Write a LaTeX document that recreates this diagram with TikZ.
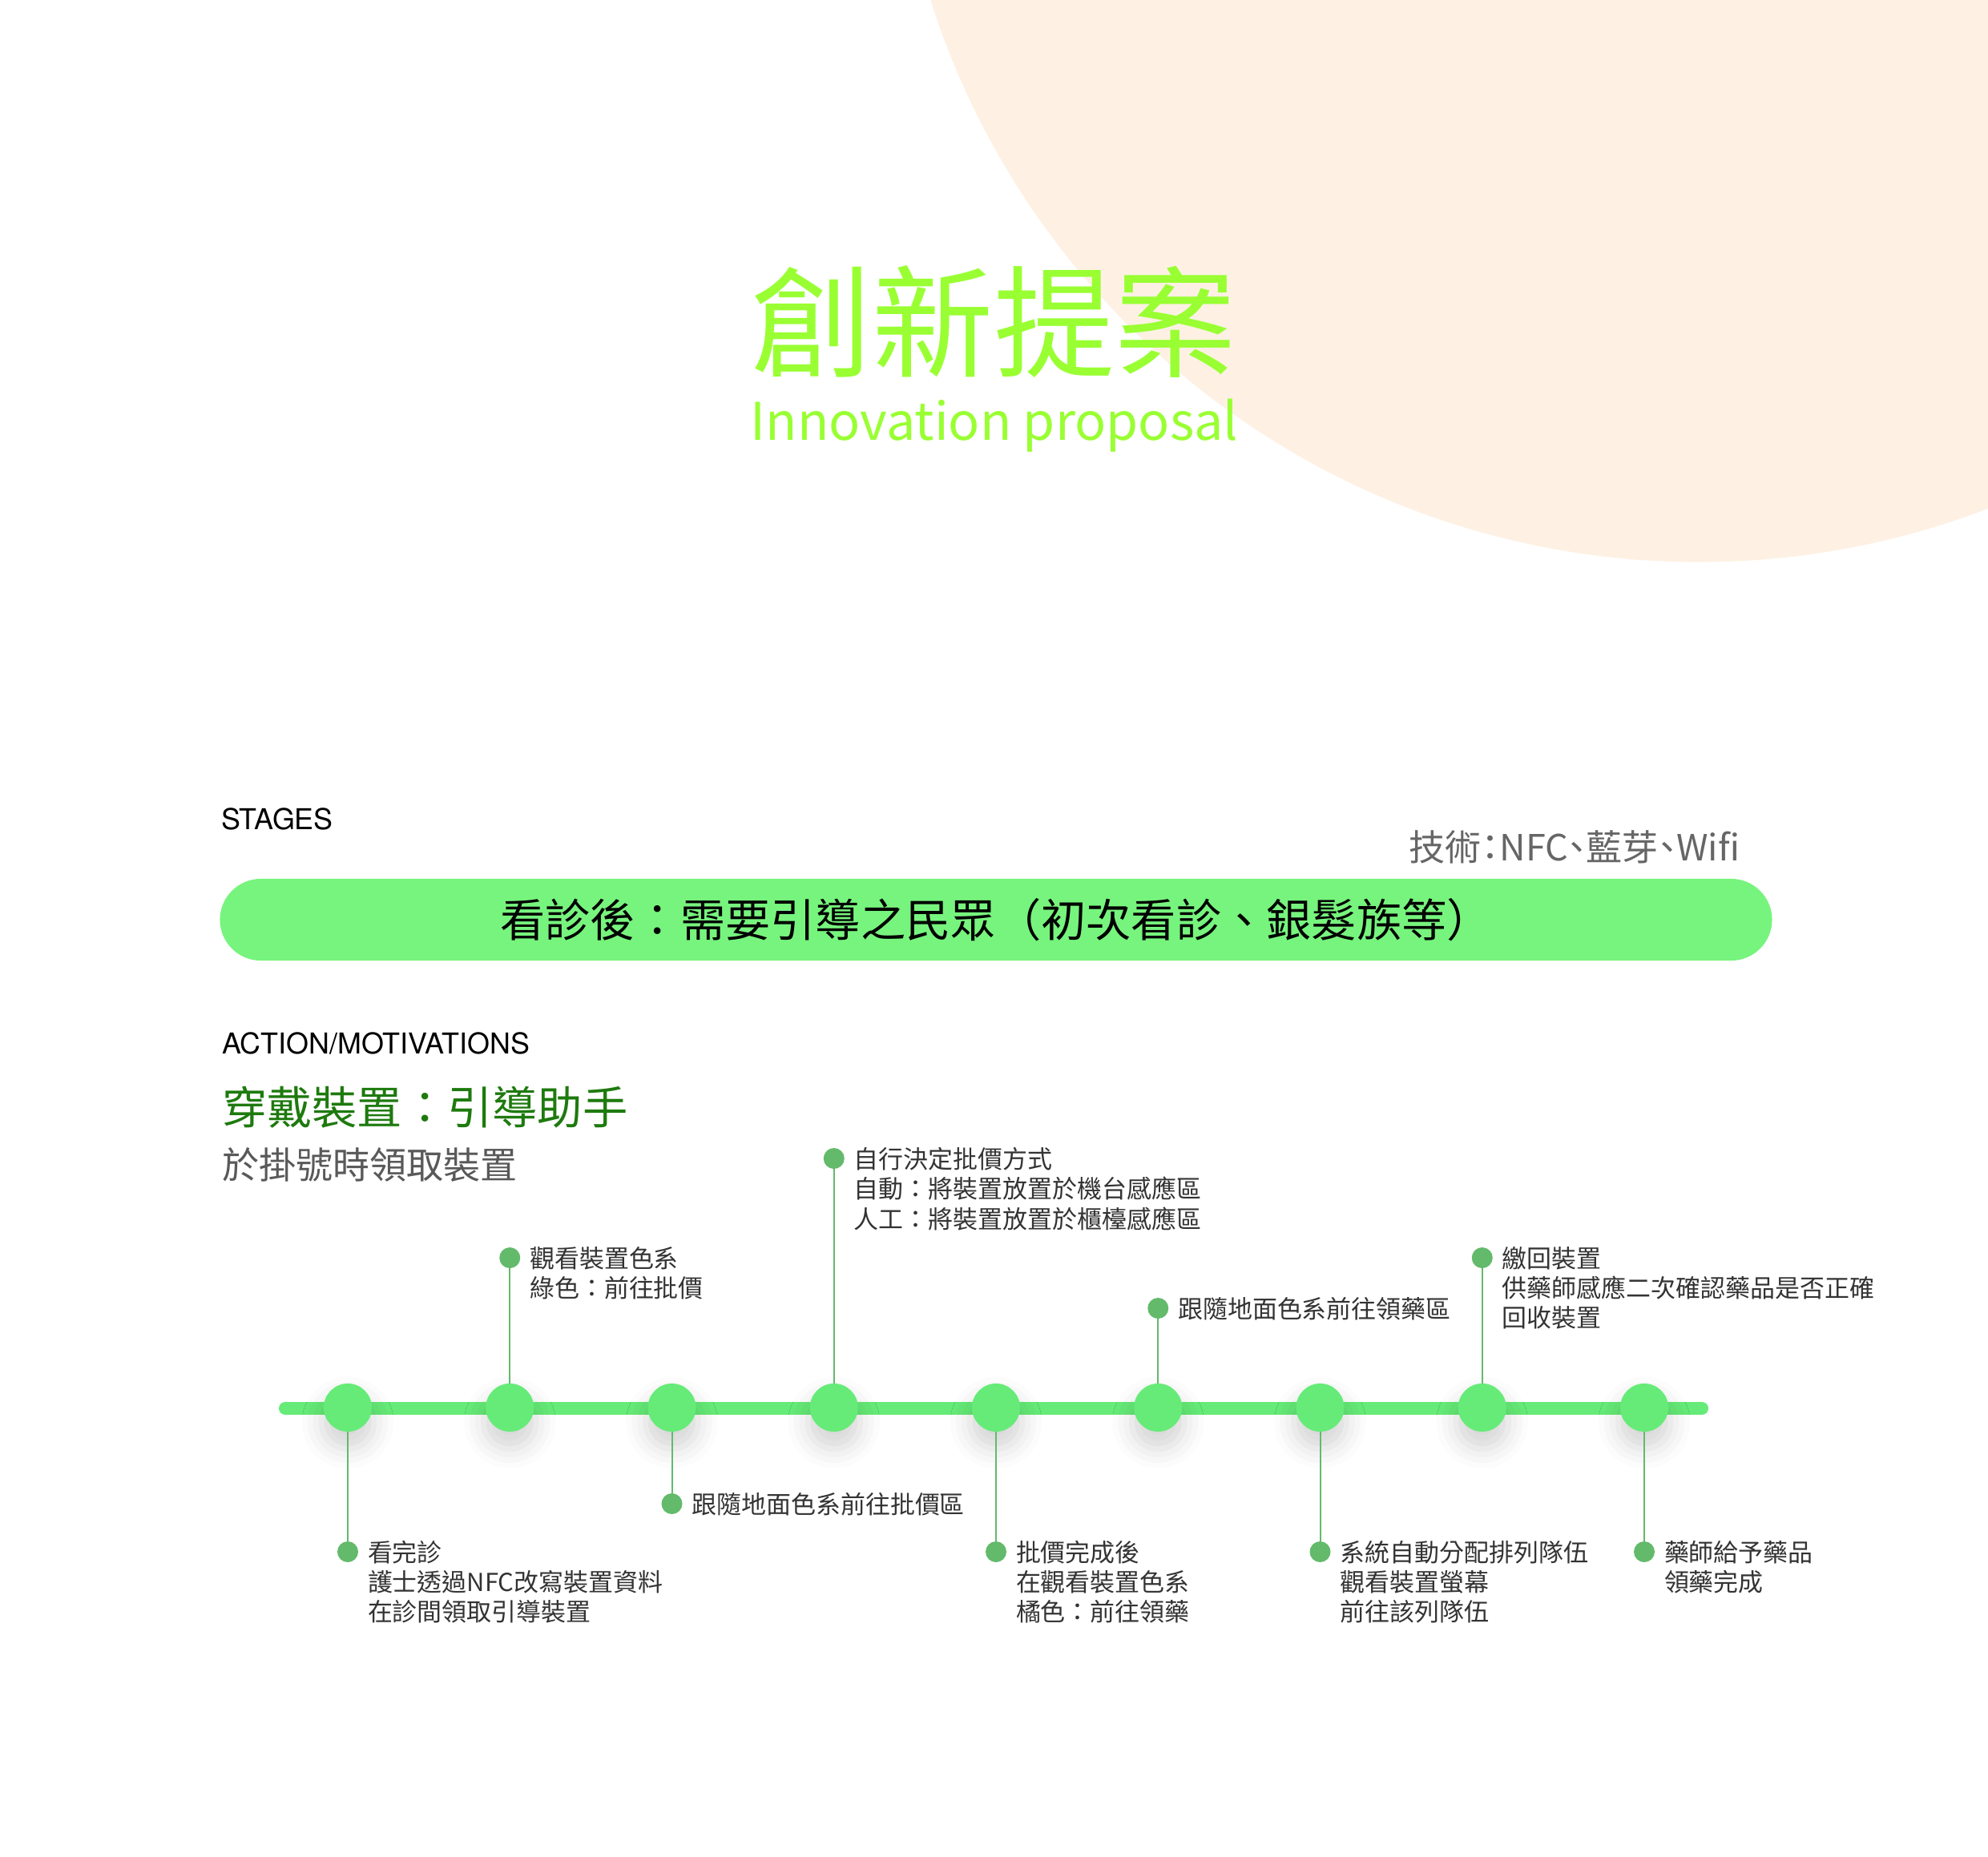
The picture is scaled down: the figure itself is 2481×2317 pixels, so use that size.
\documentclass[tikz,border=0pt]{standalone}
\usepackage{fontspec}
\setmainfont{Noto Sans CJK TC}
\newfontfamily\heros{TeX Gyre Heros}
\newfontfamily\cjkprop[RawFeature=+palt]{Noto Sans CJK TC}
\usetikzlibrary{calc,positioning,shadows.blur}
\definecolor{lime}{HTML}{99FF33}
\definecolor{peach}{HTML}{FEF1E4}
\definecolor{bandgreen}{HTML}{77F47D}
\definecolor{stationgreen}{HTML}{66EB78}
\definecolor{dotgreen}{HTML}{63BA6B}
\definecolor{darkgreen}{HTML}{1E7A0E}
\newcommand{\steplines}[1]{\begin{tabular}[t]{@{}l@{}}#1\end{tabular}}

\begin{document}
\begin{tikzpicture}[
    x=0.01cm, y=-0.01cm,
    every node/.style={inner sep=0pt, outer sep=0pt},
    heading/.style={anchor=base west, font=\heros\fontsize{10.2}{12}\selectfont},
    band/.style={rectangle, fill=bandgreen, rounded corners=0.51cm,
                 minimum width=19.36cm, minimum height=1.02cm,
                 font=\fontsize{16}{18}\selectfont},
    timeline/.style={line width=0.16cm, stationgreen, line cap=round},
    station/.style={circle, fill=stationgreen, minimum size=0.6cm,
                    blur shadow={shadow xshift=0pt, shadow yshift=-0.17cm,
                    shadow scale=1.1, shadow blur radius=0.22cm, shadow opacity=16}},
    marker/.style={circle, fill=dotgreen, minimum size=0.26cm},
    link/.style={line width=0.02cm, dotgreen},
    itemtext/.style={anchor=base west, text=black!80,
                     font=\fontsize{8.8}{10.5}\selectfont},
]
\useasboundingbox (0,0) rectangle (2481,2317);
% background
\begin{scope}
  \clip (0,0) rectangle (2481,2317);
  \fill[peach] (2120,-304) circle (10.05cm);
\end{scope}

% title
\node[text=lime, font=\fontsize{43}{43}\selectfont] (title) at (1240,402) {創新提案};
\node[anchor=base, text=lime, font=\fontsize{18.4}{20}\selectfont] (subtitle) at (1241,549) {Innovation proposal};

% stages
\node[heading] (stages) at (276,1035) {STAGES};
\node[anchor=base east, text=black!60, font=\cjkprop\fontsize{12.8}{15}\selectfont] (tech) at (2171,1074) {技術：NFC、藍芽、Wifi};
\node[band] (stageband) at (1243,1148) {看診後：需要引導之民眾（初次看診、銀髮族等）};

% actions
\node[heading] (actions) at (277,1315) {ACTION/MOTIVATIONS};
\node[anchor=base west, text=darkgreen, font=\fontsize{16}{18}\selectfont] (device) at (277,1403) {穿戴裝置：引導助手};
\node[anchor=base west, text=black!65, font=\fontsize{13.1}{15}\selectfont] (pickup) at (277,1471) {於掛號時領取裝置};

% timeline
\coordinate (tl-start) at (356,1758);
\coordinate (tl-end) at (2124,1758);
\draw[timeline] (tl-start) -- (tl-end);
\foreach \i in {1,...,9}
  \node[station] (s\i) at ({434+202.25*(\i-1)},1757) {};

% steps
\foreach \i/\y/\txt in {
    1/1937/{看完診\\護士透過NFC改寫裝置資料\\在診間領取引導裝置},
    2/1570/{觀看裝置色系\\綠色：前往批價},
    3/1877/{跟隨地面色系前往批價區},
    4/1446/{自行決定批價方式\\自動：將裝置放置於機台感應區\\人工：將裝置放置於櫃檯感應區},
    5/1937/{批價完成後\\在觀看裝置色系\\橘色：前往領藥},
    6/1633/{跟隨地面色系前往領藥區},
    7/1937/{系統自動分配排列隊伍\\觀看裝置螢幕\\前往該列隊伍},
    8/1570/{繳回裝置\\供藥師感應二次確認藥品是否正確\\回收裝置},
    9/1937/{藥師給予藥品\\領藥完成}} {
  \node[marker] (d\i) at ({434+202.25*(\i-1)},\y) {};
  \draw[link] (s\i) -- (d\i);
  \node[itemtext] (l\i) at ($(d\i)+(25,12)$) {\steplines{\txt}};
}
\end{tikzpicture}
\end{document}
